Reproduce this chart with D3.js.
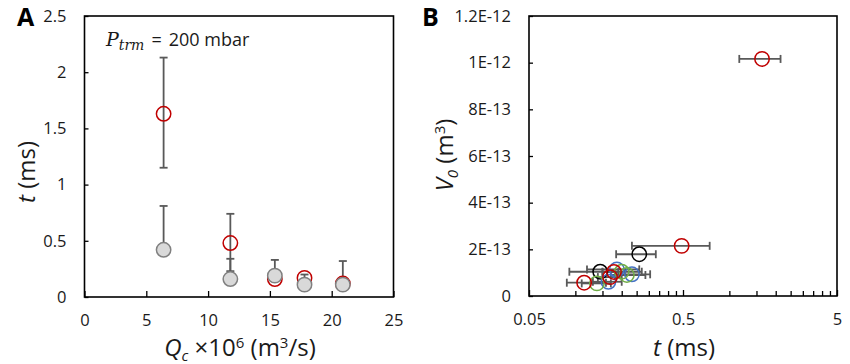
<!DOCTYPE html>
<html>
<head>
<meta charset="utf-8">
<script src="https://cdn.jsdelivr.net/npm/d3@7"></script>
<style>
  body { margin: 0; background: #fff; }
  svg { font-family: "Open Sans", sans-serif; }
  .axis text { font-size: 16.5px; fill: #1a1a1a; font-family: "Open Sans", sans-serif; }
  .axis line { stroke: #000; stroke-width: 1.3; }
  .axis path { display: none; }
  .title { font-size: 24px; fill: #1a1a1a; }
  .panel { font-size: 25px; font-weight: bold; fill: #000; }
</style>
</head>
<body>
<svg id="chart" width="850" height="364"></svg>
<script>
// ---- panel A: t vs Qc ----
var qc = [6.4, 11.8, 15.4, 17.8, 20.9];
var tRed = [1.63, 0.48, 0.16, 0.17, 0.12];
var tRedLo = [1.15, 0.23, 0.15, 0.15, 0.11];
var tRedHi = [2.13, 0.74, 0.17, 0.20, 0.32];
var tGray = [0.42, 0.16, 0.19, 0.11, 0.11];
var tGrayHi = [0.81, 0.34, 0.33, 0.13, 0.13];
var xTicksA = [0, 5, 10, 15, 20, 25];
var xLabelsA = ["0", "5", "10", "15", "20", "25"];
var yTicksA = [0, 0.5, 1, 1.5, 2, 2.5];
var yLabelsA = ["0", "0.5", "1", "1.5", "2", "2.5"];

// ---- panel B: V0 vs t ----
var redT = [1.63, 0.49, 0.114, 0.168, 0.178];
var redV = [1.016e-12, 0.215e-12, 0.057e-12, 0.081e-12, 0.103e-12];
var redLo = [1.16, 0.233, 0.088, 0.14, 0.15];
var redHi = [2.15, 0.745, 0.158, 0.2, 0.21];
var blackT = [0.26, 0.145];
var blackV = [0.179e-12, 0.104e-12];
var blackLo = [0.184, 0.0914];
var blackHi = [0.333, 0.19];
var blueT = [0.186, 0.233, 0.164];
var blueV = [0.114e-12, 0.093e-12, 0.061e-12];
var blueLo = [0.119, 0.181, 0.13];
var blueHi = [0.26, 0.306, 0.2];
var greenT = [0.2, 0.216, 0.138];
var greenV = [0.104e-12, 0.09e-12, 0.054e-12];
var greenLo = [0.15, 0.17, 0.11];
var greenHi = [0.27, 0.285, 0.17];
var xMajorB = [0.05, 0.5, 5];
var xLabelsB = ["0.05", "0.5", "5"];
var xMinorB = [0.1, 0.15, 0.2, 0.25, 0.3, 0.35, 0.4, 0.45, 1, 1.5, 2, 2.5, 3, 3.5, 4, 4.5];
var yTicksB = [0, 2e-13, 4e-13, 6e-13, 8e-13, 1e-12, 1.2e-12];
var yLabelsB = ["0", "2E-13", "4E-13", "6E-13", "8E-13", "1E-12", "1.2E-12"];

var svg = d3.select("#chart");
var barColor = "#595959";
var r = 7.2;

function lbl(ticks, labels) {
  return function(d) { return labels[ticks.indexOf(d)]; };
}

// ===== Panel A =====
var xA = d3.scaleLinear().domain([0, 25]).range([84.5, 393.5]);
var yA = d3.scaleLinear().domain([0, 2.5]).range([297, 16]);
var gA = svg.append("g");

gA.append("g").attr("class", "axis")
  .attr("transform", "translate(0,297)")
  .call(d3.axisBottom(xA).tickValues(xTicksA).tickFormat(lbl(xTicksA, xLabelsA))
    .tickSizeInner(-6).tickSizeOuter(0).tickPadding(17));
gA.append("g").attr("class", "axis")
  .attr("transform", "translate(84.5,0)")
  .call(d3.axisLeft(yA).tickValues(yTicksA).tickFormat(lbl(yTicksA, yLabelsA))
    .tickSizeInner(-4).tickSizeOuter(0).tickPadding(18));

gA.append("rect")
  .attr("x", xA(0)).attr("y", yA(2.5))
  .attr("width", xA(25) - xA(0)).attr("height", yA(0) - yA(2.5))
  .attr("fill", "none").attr("stroke", "#000").attr("stroke-width", 1.6);

// vertical error bars
function vBars(g, xs, lo, hi) {
  xs.forEach(function(q, i) {
    g.append("line").attr("x1", xA(q)).attr("x2", xA(q))
      .attr("y1", yA(lo[i])).attr("y2", yA(hi[i]))
      .attr("stroke", barColor).attr("stroke-width", 1.8);
    [lo[i], hi[i]].forEach(function(v) {
      g.append("line").attr("x1", xA(q) - 4).attr("x2", xA(q) + 4)
        .attr("y1", yA(v)).attr("y2", yA(v))
        .attr("stroke", barColor).attr("stroke-width", 1.8);
    });
  });
}
vBars(gA, qc, tRedLo, tRedHi);
gA.selectAll(".red").data(qc).enter().append("circle")
  .attr("cx", d => xA(d)).attr("cy", (d, i) => yA(tRed[i])).attr("r", r)
  .attr("fill", "none").attr("stroke", "#c00000").attr("stroke-width", 1.5);
vBars(gA, qc, tGray, tGrayHi);
gA.selectAll(".gray").data(qc).enter().append("circle")
  .attr("cx", d => xA(d)).attr("cy", (d, i) => yA(tGray[i])).attr("r", r)
  .attr("fill", "#d9d9d9").attr("stroke", "#808080").attr("stroke-width", 1.5);

// P_trm annotation
var ann = gA.append("text").attr("x", 106).attr("y", 46).attr("font-size", 18).attr("fill", "#1a1a1a");
ann.append("tspan").attr("font-family", "'DejaVu Serif', serif").attr("font-style", "italic").attr("font-size", 19).text("P");
ann.append("tspan").attr("font-family", "'DejaVu Serif', serif").attr("font-style", "italic").attr("font-size", 14).attr("dy", 4).text("trm");
ann.append("tspan").attr("dy", -4).attr("dx", 7).text("=");
ann.append("tspan").attr("dx", 7).text("200 mbar");

// titles
var tyA = gA.append("text").attr("class", "title").attr("text-anchor", "middle")
  .attr("transform", "translate(35,172) rotate(-90)");
tyA.append("tspan").attr("font-style", "italic").text("t");
tyA.append("tspan").text(" (ms)");

var txA = gA.append("text").attr("class", "title").attr("text-anchor", "middle")
  .attr("x", 240).attr("y", 356);
txA.append("tspan").attr("font-style", "italic").text("Q");
txA.append("tspan").attr("font-style", "italic").attr("font-size", 15).attr("dy", 5).text("c");
txA.append("tspan").attr("dy", -5).text(" ×10");
txA.append("tspan").attr("font-size", 15).attr("dy", -8).text("6");
txA.append("tspan").attr("dy", 8).text(" (m");
txA.append("tspan").attr("font-size", 15).attr("dy", -8).text("3");
txA.append("tspan").attr("dy", 8).text("/s)");

svg.append("text").attr("class", "panel").attr("x", 17).attr("y", 26).text("A");

// ===== Panel B =====
var xB = d3.scaleLog().domain([0.05, 5]).range([529, 837]);
var yB = d3.scaleLinear().domain([0, 1.2e-12]).range([296, 16]);
var gB = svg.append("g");

gB.append("g").attr("class", "axis")
  .attr("transform", "translate(0,296)")
  .call(d3.axisBottom(xB).tickValues(xMinorB).tickFormat("")
    .tickSizeInner(-5).tickSizeOuter(0));
gB.append("g").attr("class", "axis")
  .attr("transform", "translate(0,296)")
  .call(d3.axisBottom(xB).tickValues(xMajorB).tickFormat(lbl(xMajorB, xLabelsB))
    .tickSizeInner(-6).tickSizeOuter(0).tickPadding(17));
gB.append("g").attr("class", "axis")
  .attr("transform", "translate(529,0)")
  .call(d3.axisLeft(yB).tickValues(yTicksB).tickFormat(lbl(yTicksB, yLabelsB))
    .tickSizeInner(-4).tickSizeOuter(0).tickPadding(18));

gB.append("rect")
  .attr("x", xB(0.05)).attr("y", yB(1.2e-12))
  .attr("width", xB(5) - xB(0.05)).attr("height", yB(0) - yB(1.2e-12))
  .attr("fill", "none").attr("stroke", "#000").attr("stroke-width", 1.6);

var seriesB = [
  { t: blackT, v: blackV, lo: blackLo, hi: blackHi, c: "#000000" },
  { t: blueT, v: blueV, lo: blueLo, hi: blueHi, c: "#4472c4" },
  { t: greenT, v: greenV, lo: greenLo, hi: greenHi, c: "#70ad47" },
  { t: redT, v: redV, lo: redLo, hi: redHi, c: "#c00000" }
];

seriesB.forEach(function(s) {
  s.t.forEach(function(t, i) {
    var yy = yB(s.v[i]);
    gB.append("line").attr("x1", xB(s.lo[i])).attr("x2", xB(s.hi[i]))
      .attr("y1", yy).attr("y2", yy)
      .attr("stroke", barColor).attr("stroke-width", 1.8);
    [s.lo[i], s.hi[i]].forEach(function(e) {
      gB.append("line").attr("x1", xB(e)).attr("x2", xB(e))
        .attr("y1", yy - 4).attr("y2", yy + 4)
        .attr("stroke", barColor).attr("stroke-width", 1.8);
    });
  });
});
seriesB.forEach(function(s) {
  gB.append("g").selectAll("circle").data(s.t).enter().append("circle")
    .attr("cx", d => xB(d)).attr("cy", (d, i) => yB(s.v[i])).attr("r", r)
    .attr("fill", "none").attr("stroke", s.c).attr("stroke-width", 1.5);
});

var tyB = gB.append("text").attr("class", "title").attr("text-anchor", "middle")
  .attr("transform", "translate(453,155) rotate(-90)");
tyB.append("tspan").attr("font-style", "italic").text("V");
tyB.append("tspan").attr("font-style", "italic").attr("font-size", 15).attr("dy", 5).text("0");
tyB.append("tspan").attr("dy", -5).text(" (m");
tyB.append("tspan").attr("font-size", 15).attr("dy", -8).text("3");
tyB.append("tspan").attr("dy", 8).text(")");

var txB = gB.append("text").attr("class", "title").attr("text-anchor", "middle")
  .attr("x", 684).attr("y", 356);
txB.append("tspan").attr("font-style", "italic").text("t");
txB.append("tspan").text(" (ms)");

svg.append("text").attr("class", "panel").attr("x", 422).attr("y", 26).text("B");
</script>
</body>
</html>
